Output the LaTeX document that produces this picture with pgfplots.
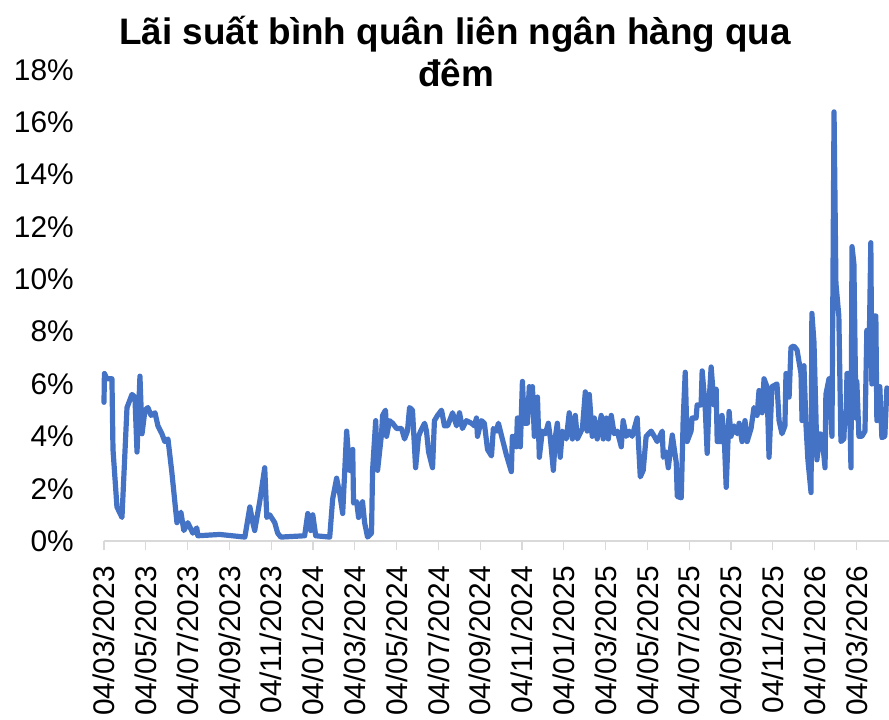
\documentclass[border=0pt]{standalone}
\usepackage{pgfplots}
\pgfplotsset{compat=1.18}
\usepackage{fontspec}
\setmainfont{Liberation Sans}
\definecolor{lineblue}{HTML}{4472C4}
\definecolor{axgray}{HTML}{D9D9D9}
\begin{document}
\begin{tikzpicture}
\begin{axis}[
  at={(0,0)}, anchor=south west,
  scale only axis,
  width=785bp, height=471bp,
  xmin=0, xmax=37.56, ymin=0, ymax=18,
  clip=false,
  axis x line*=bottom,
  axis y line*=left,
  x axis line style={draw=axgray, line width=1.3bp, -},
  y axis line style={draw=none},
  xtick={0,2,...,36},
  xticklabels={04/03/2023,04/05/2023,04/07/2023,04/09/2023,04/11/2023,04/01/2024,04/03/2024,04/05/2024,04/07/2024,04/09/2024,04/11/2024,04/01/2025,04/03/2025,04/05/2025,04/07/2025,04/09/2025,04/11/2025,04/01/2026,04/03/2026},
  xtick style={draw=axgray, line width=1.3bp},
  xtick align=outside,
  major tick length=9bp,
  xticklabel style={rotate=90, anchor=east, inner sep=0pt, font=\fontsize{30}{36}\selectfont},
  xticklabel shift=16bp,
  ytick={0,2,...,18},
  yticklabels={0\%,2\%,4\%,6\%,8\%,10\%,12\%,14\%,16\%,18\%},
  ytick style={draw=none},
  yticklabel style={anchor=east, inner sep=0pt, font=\fontsize{30}{36}\selectfont},
  yticklabel shift=30bp,
]
\addplot[color=lineblue, line width=5.2bp, line join=round, line cap=round] table {
x y
0 5.3
0.02 6.4
0.14 6.2
0.38 6.2
0.43 3.5
0.62 1.3
0.86 0.9
1.10 5.1
1.34 5.6
1.48 5.5
1.58 3.4
1.72 6.3
1.82 4.1
1.96 5.0
2.10 5.1
2.25 4.8
2.44 4.9
2.58 4.4
2.77 4.1
2.91 3.8
3.06 3.9
3.25 2.6
3.49 0.7
3.68 1.1
3.82 0.4
4.01 0.7
4.25 0.3
4.44 0.5
4.49 0.2
5.54 0.25
6.74 0.15
6.98 1.3
7.12 0.7
7.21 0.4
7.45 1.5
7.69 2.8
7.79 0.9
7.93 1.0
8.17 0.7
8.31 0.3
8.46 0.15
9.60 0.2
9.75 1.05
9.89 0.4
9.99 1.0
10.13 0.2
10.80 0.15
10.94 1.6
11.13 2.4
11.28 1.8
11.42 1.05
11.61 4.2
11.75 2.7
11.90 3.5
11.94 1.45
12.09 1.5
12.18 0.9
12.37 1.5
12.47 0.7
12.61 0.15
12.80 0.3
12.85 2.7
13.00 4.6
13.09 2.7
13.28 4.1
13.33 4.8
13.47 5.0
13.52 4.0
13.66 4.6
13.81 4.5
14.00 4.3
14.24 4.3
14.38 3.9
14.52 4.2
14.62 5.1
14.76 5.0
14.91 2.8
15.05 4.0
15.15 4.2
15.34 4.5
15.43 4.2
15.53 3.4
15.72 2.8
15.81 4.6
15.96 4.8
16.15 5.0
16.29 4.4
16.44 4.4
16.68 4.9
16.87 4.4
17.01 4.9
17.15 4.3
17.34 4.6
17.58 4.5
17.73 4.4
17.82 4.7
17.87 4.0
17.96 4.3
18.06 4.6
18.20 4.5
18.35 3.5
18.54 3.25
18.63 4.3
18.78 4.2
18.87 4.5
19.06 3.9
19.25 3.3
19.49 2.65
19.54 4.0
19.73 3.6
19.78 4.7
19.92 3.6
20.02 6.1
20.11 4.5
20.26 4.5
20.35 5.9
20.45 5.4
20.50 5.9
20.59 4.0
20.74 5.5
20.83 3.2
20.97 4.2
21.12 4.1
21.26 4.5
21.36 3.9
21.50 2.7
21.60 4.0
21.69 4.5
21.83 3.2
21.93 4.2
22.12 3.9
22.26 4.9
22.41 3.9
22.55 4.8
22.65 3.9
22.89 4.3
23.03 5.7
23.12 4.2
23.22 5.6
23.36 4.0
23.46 4.7
23.60 3.9
23.79 4.8
23.89 3.9
24.03 4.7
24.13 3.9
24.27 4.8
24.41 4.1
24.56 4.2
24.75 3.6
24.84 4.6
24.99 4.0
25.13 4.2
25.27 4.0
25.51 4.7
25.66 2.45
25.80 2.7
25.94 4.0
26.18 4.2
26.33 4.0
26.47 3.8
26.71 4.2
26.76 3.2
26.90 3.4
27.00 2.8
27.19 4.05
27.38 3.0
27.43 1.7
27.62 1.65
27.71 4.6
27.81 6.45
27.90 3.8
28.09 4.2
28.14 4.7
28.33 4.7
28.38 5.2
28.57 5.2
28.62 6.5
28.76 5.2
28.86 3.35
28.95 5.3
29.05 6.65
29.19 5.2
29.29 5.8
29.34 3.8
29.53 3.8
29.57 4.8
29.67 4.1
29.77 2.05
29.91 4.95
30.00 4.0
30.15 4.4
30.29 4.1
30.39 4.5
30.53 3.8
30.67 4.6
30.77 3.8
30.96 4.3
31.10 5.1
31.25 4.8
31.34 5.75
31.49 4.9
31.58 6.2
31.72 5.9
31.82 3.2
31.96 5.9
32.20 6.0
32.30 4.6
32.44 4.1
32.58 4.4
32.63 6.4
32.78 5.5
32.87 7.4
33.01 7.45
33.16 7.3
33.35 6.4
33.40 4.6
33.49 6.7
33.59 4.4
33.68 3.1
33.83 1.85
33.87 8.7
33.97 7.6
34.07 4.6
34.11 3.1
34.26 4.1
34.35 4.05
34.50 2.8
34.54 5.6
34.69 6.2
34.83 4.0
34.93 16.4
35.02 9.85
35.16 8.6
35.26 3.8
35.40 3.9
35.45 4.9
35.50 4.6
35.55 6.4
35.64 6.4
35.74 2.8
35.79 11.25
35.88 10.6
35.98 4.7
36.02 6.1
36.12 4.0
36.26 4.0
36.41 4.2
36.50 8.05
36.60 6.8
36.69 11.4
36.74 6.0
36.84 8.6
36.93 8.6
36.98 4.6
37.12 5.9
37.22 3.95
37.36 4.0
37.46 5.85
};
\end{axis}
\node[anchor=base, font=\bfseries\fontsize{37}{42}\selectfont] at (351bp,496bp) {Lãi suất bình quân liên ngân hàng qua};
\node[anchor=base, font=\bfseries\fontsize{37}{42}\selectfont] at (352bp,454bp) {đêm};
\pgfresetboundingbox
\path[use as bounding box] (-104bp,-179bp) rectangle (785bp,541bp);
\end{tikzpicture}
\end{document}
